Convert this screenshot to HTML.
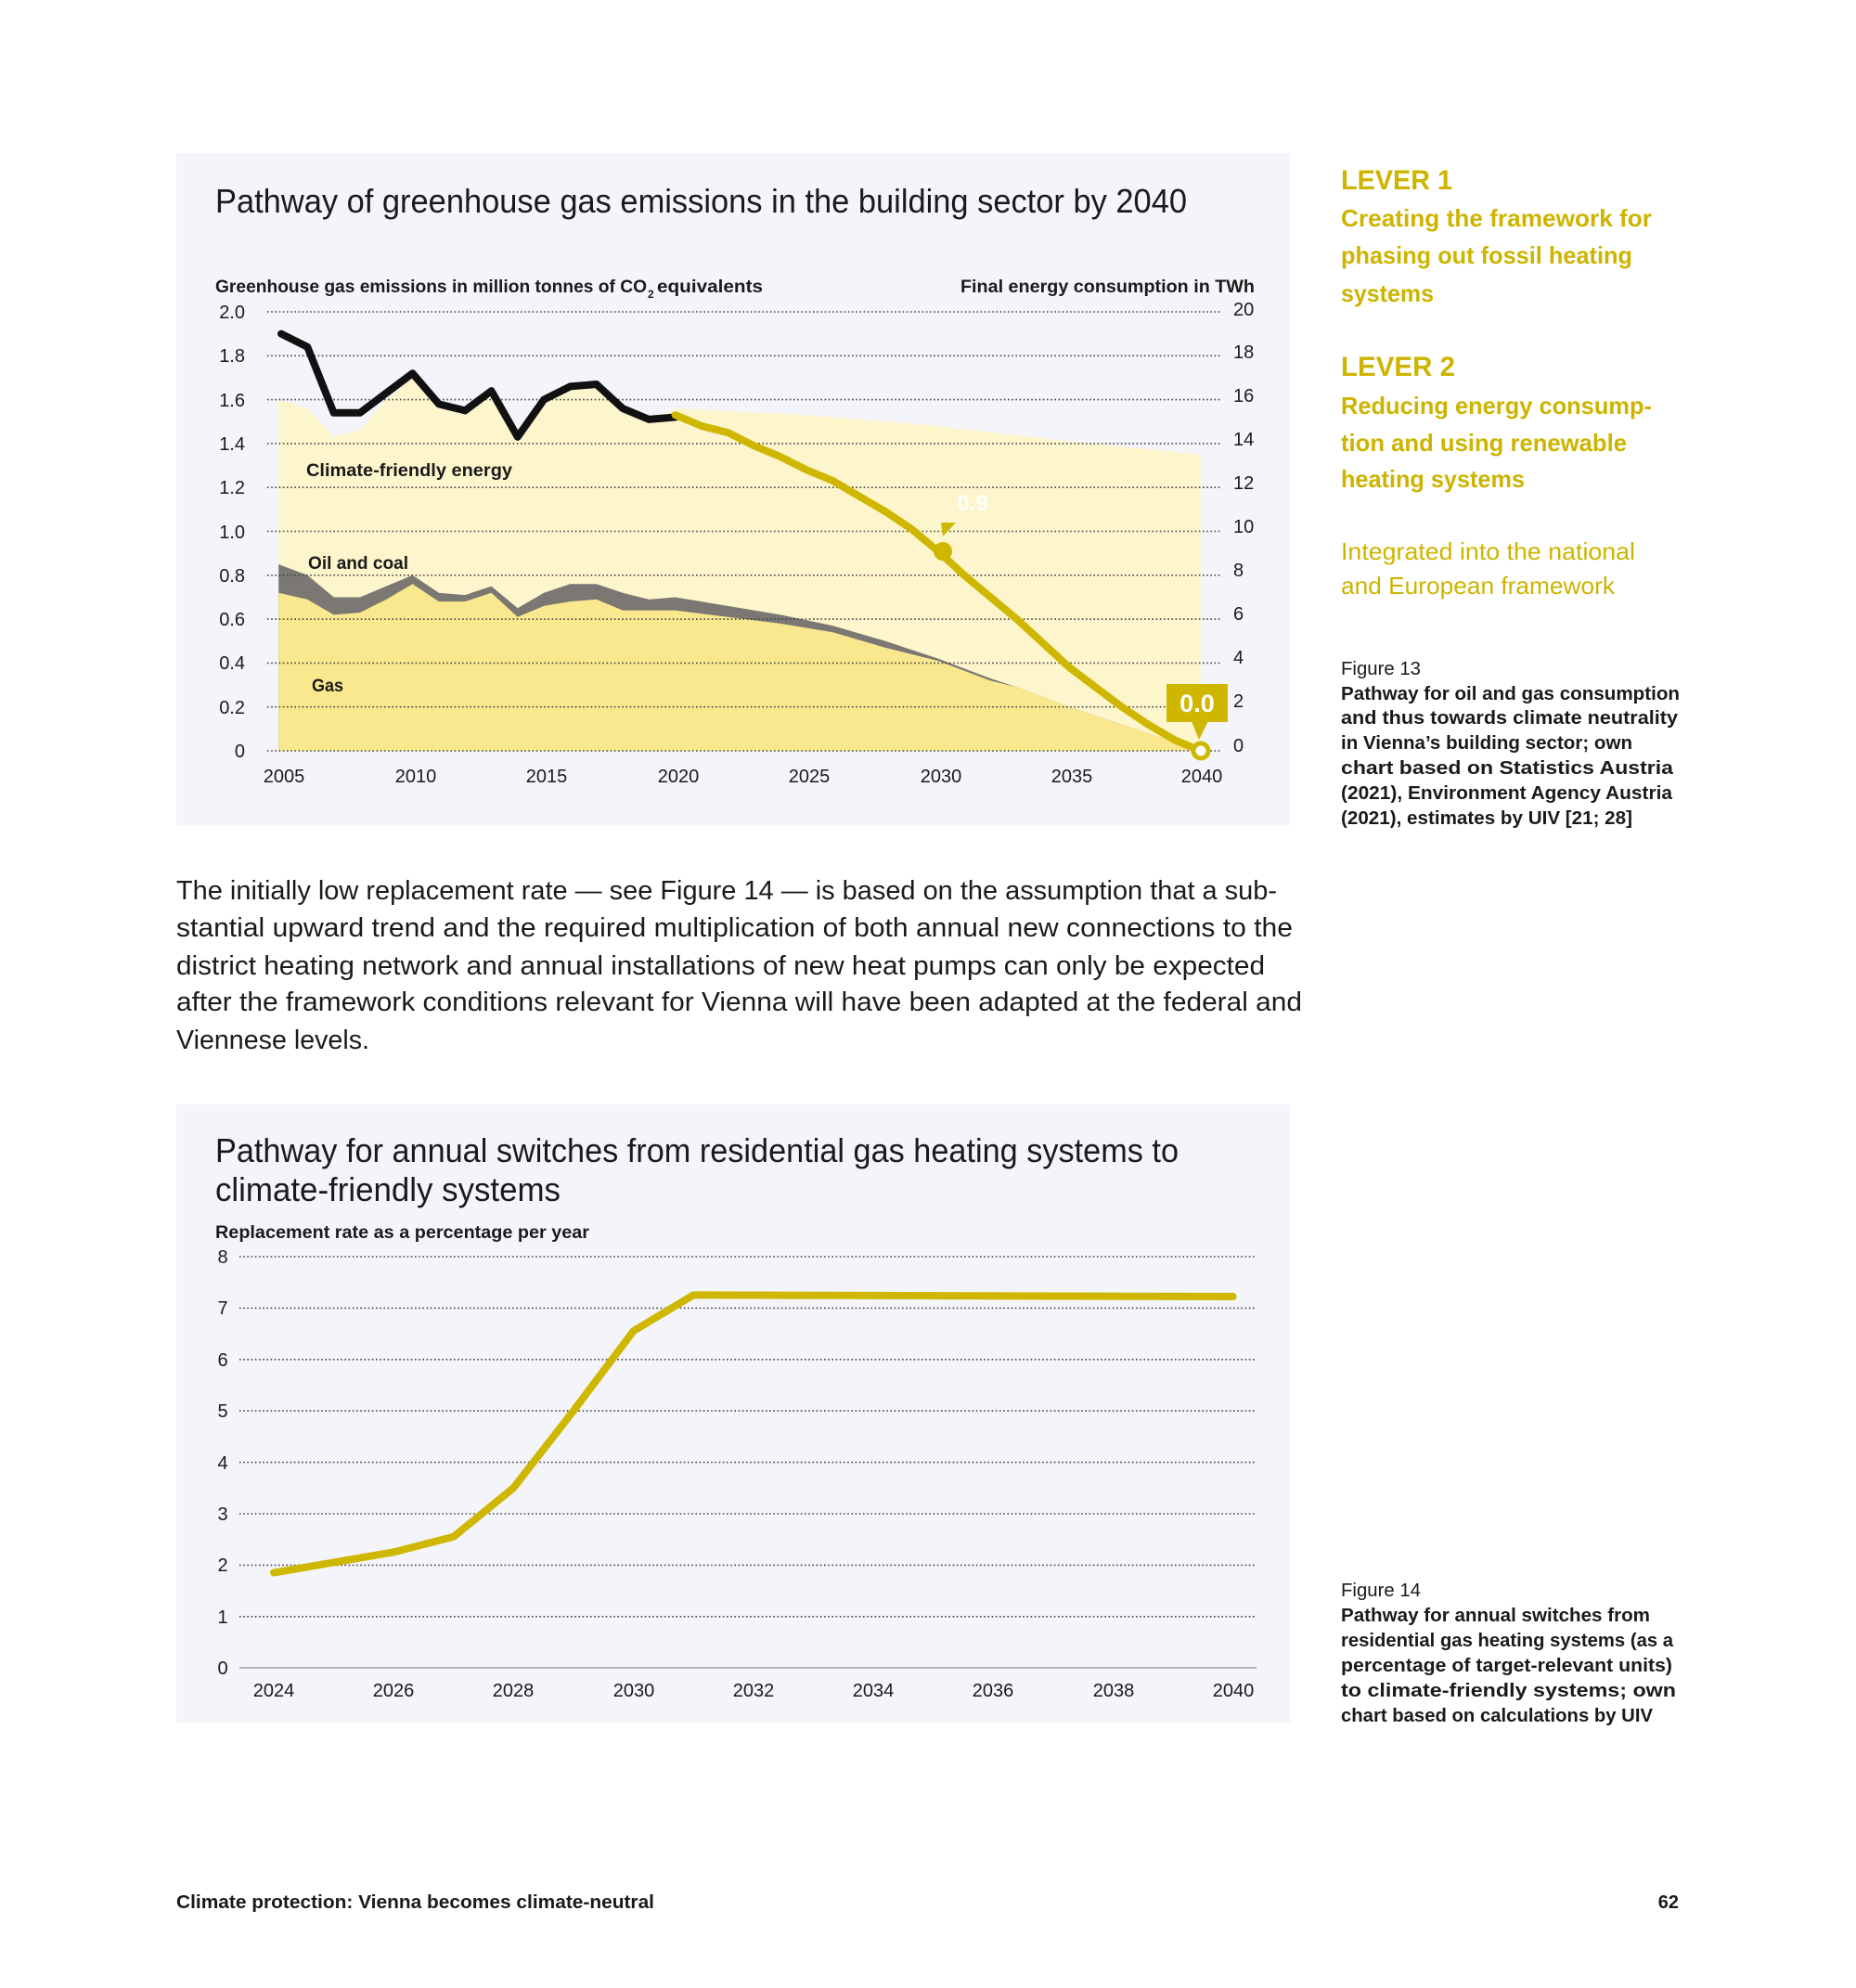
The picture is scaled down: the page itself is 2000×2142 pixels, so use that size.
<!DOCTYPE html>
<html><head><meta charset="utf-8"><style>
html,body{margin:0;padding:0;background:#fff}
svg{display:block}
text{font-family:"Liberation Sans",sans-serif}
</style></head><body>
<svg width="2000" height="2142" viewBox="0 0 2000 2142" xmlns="http://www.w3.org/2000/svg">
<rect width="2000" height="2142" fill="#fff"/>
<!-- Panel 1 -->
<rect x="190" y="165" width="1200" height="724" fill="#f4f5fa"/>
<text x="232" y="229" font-size="36" fill="#1a1a1a" textLength="1047" lengthAdjust="spacingAndGlyphs">Pathway of greenhouse gas emissions in the building sector by 2040</text>
<text x="232" y="315" font-size="19" font-weight="bold" fill="#1a1a1a" textLength="465" lengthAdjust="spacingAndGlyphs">Greenhouse gas emissions in million tonnes of CO</text>
<text x="698" y="321" font-size="12" font-weight="bold" fill="#1a1a1a">2</text>
<text x="708" y="315" font-size="19" font-weight="bold" fill="#1a1a1a" textLength="114" lengthAdjust="spacingAndGlyphs">equivalents</text>
<text x="1035" y="315" font-size="19" font-weight="bold" fill="#1a1a1a" textLength="317" lengthAdjust="spacingAndGlyphs">Final energy consumption in TWh</text>

<!-- areas (data coords) -->
<g transform="translate(303,809) scale(28.31,-236.5)">
<polygon fill="#fdf5cc" points="-0.1,0 -0.1,1.60 1,1.56 2,1.43 3,1.46 4,1.60 5,1.70 6,1.56 7,1.53 8,1.62 9,1.41 10,1.58 11,1.64 12,1.66 13,1.54 14,1.50 15,1.56 20,1.53 25,1.48 30,1.41 35,1.35 35,0"/>
<polygon fill="#7b7772" points="-0.1,0 -0.1,0.85 1,0.80 2,0.70 3,0.70 4,0.75 5,0.80 6,0.72 7,0.71 8,0.75 9,0.65 10,0.72 11,0.76 12,0.76 13,0.72 14,0.69 15,0.70 17,0.66 19,0.62 21,0.57 23,0.50 25,0.42 27,0.33 28,0.29 30,0.20 35,0"/>
<polygon fill="#f9e88e" points="-0.1,0 -0.1,0.72 1,0.69 2,0.62 3,0.63 4,0.69 5,0.76 6,0.68 7,0.68 8,0.72 9,0.61 10,0.66 11,0.68 12,0.69 13,0.64 14,0.64 15,0.64 17,0.61 19,0.58 21,0.54 23,0.47 25,0.41 27,0.32 28,0.29 30,0.20 35,0"/>
</g>
<!-- grid -->
<g stroke="#444" stroke-width="1.6" stroke-dasharray="1.6 2.6">
<line x1="288" y1="336" x2="1317" y2="336"/>
<line x1="288" y1="383.3" x2="1317" y2="383.3"/>
<line x1="288" y1="430.6" x2="1317" y2="430.6"/>
<line x1="288" y1="477.9" x2="1317" y2="477.9"/>
<line x1="288" y1="525.2" x2="1317" y2="525.2"/>
<line x1="288" y1="572.5" x2="1317" y2="572.5"/>
<line x1="288" y1="619.8" x2="1317" y2="619.8"/>
<line x1="288" y1="667.1" x2="1317" y2="667.1"/>
<line x1="288" y1="714.4" x2="1317" y2="714.4"/>
<line x1="288" y1="761.7" x2="1317" y2="761.7"/>
<line x1="288" y1="809" x2="1317" y2="809"/>
</g>
<g font-size="20" fill="#1a1a1a" text-anchor="end">
<text x="264" y="343">2.0</text><text x="264" y="390">1.8</text><text x="264" y="438">1.6</text><text x="264" y="485">1.4</text><text x="264" y="532">1.2</text><text x="264" y="580">1.0</text><text x="264" y="627">0.8</text><text x="264" y="674">0.6</text><text x="264" y="721">0.4</text><text x="264" y="769">0.2</text><text x="264" y="816">0</text>
</g>
<g font-size="20" fill="#1a1a1a">
<text x="1329" y="340">20</text><text x="1329" y="386">18</text><text x="1329" y="433">16</text><text x="1329" y="480">14</text><text x="1329" y="527">12</text><text x="1329" y="574">10</text><text x="1329" y="621">8</text><text x="1329" y="668">6</text><text x="1329" y="715">4</text><text x="1329" y="762">2</text><text x="1329" y="810">0</text>
</g>
<g font-size="20" fill="#1a1a1a" text-anchor="middle">
<text x="306" y="843">2005</text><text x="448" y="843">2010</text><text x="589" y="843">2015</text><text x="731" y="843">2020</text><text x="872" y="843">2025</text><text x="1014" y="843">2030</text><text x="1155" y="843">2035</text><text x="1295" y="843">2040</text>
</g>
<g transform="translate(303,809) scale(28.31,-236.5)" fill="none" stroke-linejoin="round" stroke-linecap="round">
<polyline vector-effect="non-scaling-stroke" stroke="#111" stroke-width="8" points="0,1.90 1,1.84 2,1.54 3,1.54 4,1.63 5,1.72 6,1.58 7,1.55 8,1.64 9,1.43 10,1.60 11,1.66 12,1.67 13,1.56 14,1.51 15,1.52"/>
<polyline vector-effect="non-scaling-stroke" stroke="#cfb700" stroke-width="8" points="15,1.53 16,1.48 17,1.45 18,1.39 19,1.34 20,1.28 21,1.23 22,1.16 23,1.09 24,1.01 25,0.91 26,0.80 27,0.70 28,0.60 29,0.49 30,0.38 31,0.29 32,0.20 33,0.12 34,0.05 35,0"/>
</g>
<g font-size="19" font-weight="bold" fill="#1a1a1a">
<text x="330" y="513" textLength="222" lengthAdjust="spacingAndGlyphs">Climate-friendly energy</text>
<text x="332" y="613" textLength="108" lengthAdjust="spacingAndGlyphs">Oil and coal</text>
<text x="336" y="745" textLength="34" lengthAdjust="spacingAndGlyphs">Gas</text>
</g>
<circle cx="1016" cy="594" r="10" fill="#cfb700"/>
<polygon points="1014,563 1030,563 1016,578" fill="#cfb700"/>
<text x="1048" y="550" font-size="24" font-weight="bold" fill="#fff" text-anchor="middle">0.9</text>
<rect x="1257" y="737" width="66" height="41" fill="#cfb700"/>
<polygon points="1284,777 1302,777 1292,797" fill="#cfb700"/>
<text x="1290" y="767" font-size="27" font-weight="bold" fill="#fff" text-anchor="middle">0.0</text>
<circle cx="1294" cy="809" r="8" fill="#fff" stroke="#cfb700" stroke-width="5"/>

<!-- Paragraph -->
<g font-size="29" fill="#1a1a1a">
<text x="190" y="969" textLength="1186" lengthAdjust="spacingAndGlyphs">The initially low replacement rate — see Figure 14 — is based on the assumption that a sub-</text>
<text x="190" y="1009" textLength="1203" lengthAdjust="spacingAndGlyphs">stantial upward trend and the required multiplication of both annual new connections to the</text>
<text x="190" y="1050" textLength="1173" lengthAdjust="spacingAndGlyphs">district heating network and annual installations of new heat pumps can only be expected</text>
<text x="190" y="1089" textLength="1213" lengthAdjust="spacingAndGlyphs">after the framework conditions relevant for Vienna will have been adapted at the federal and</text>
<text x="190" y="1130" textLength="208" lengthAdjust="spacingAndGlyphs">Viennese levels.</text>
</g>

<!-- Panel 2 -->
<rect x="190" y="1190" width="1200" height="666" fill="#f4f5fa"/>
<text x="232" y="1252" font-size="36" fill="#1a1a1a" textLength="1038" lengthAdjust="spacingAndGlyphs">Pathway for annual switches from residential gas heating systems to</text>
<text x="232" y="1294" font-size="36" fill="#1a1a1a" textLength="372" lengthAdjust="spacingAndGlyphs">climate-friendly systems</text>
<text x="232" y="1334" font-size="19" font-weight="bold" fill="#1a1a1a" textLength="403" lengthAdjust="spacingAndGlyphs">Replacement rate as a percentage per year</text>
<g stroke="#444" stroke-width="1.6" stroke-dasharray="1.6 2.6">
<line x1="258" y1="1354" x2="1354" y2="1354"/>
<line x1="258" y1="1409.4" x2="1354" y2="1409.4"/>
<line x1="258" y1="1464.8" x2="1354" y2="1464.8"/>
<line x1="258" y1="1520.2" x2="1354" y2="1520.2"/>
<line x1="258" y1="1575.6" x2="1354" y2="1575.6"/>
<line x1="258" y1="1631" x2="1354" y2="1631"/>
<line x1="258" y1="1686.4" x2="1354" y2="1686.4"/>
<line x1="258" y1="1741.8" x2="1354" y2="1741.8"/>
</g>
<line x1="258" y1="1797" x2="1354" y2="1797" stroke="#999" stroke-width="1.6"/>
<g font-size="20" fill="#1a1a1a" text-anchor="middle">
<text x="240" y="1361">8</text><text x="240" y="1416">7</text><text x="240" y="1472">6</text><text x="240" y="1527">5</text><text x="240" y="1583">4</text><text x="240" y="1638">3</text><text x="240" y="1693">2</text><text x="240" y="1749">1</text><text x="240" y="1804">0</text>
<text x="295" y="1828">2024</text><text x="424" y="1828">2026</text><text x="553" y="1828">2028</text><text x="683" y="1828">2030</text><text x="812" y="1828">2032</text><text x="941" y="1828">2034</text><text x="1070" y="1828">2036</text><text x="1200" y="1828">2038</text><text x="1329" y="1828">2040</text>
</g>
<g transform="translate(295,1797) scale(64.6,-55.4)" fill="none">
<polyline vector-effect="non-scaling-stroke" stroke="#cfb700" stroke-width="8" stroke-linejoin="round" stroke-linecap="round" points="0,1.85 1,2.05 2,2.25 3,2.55 4,3.5 5,5.0 6,6.55 7,7.25 10,7.24 13,7.23 16,7.22"/>
</g>

<!-- Right column -->
<g fill="#cdb400" font-weight="bold">
<text x="1445" y="204" font-size="30" textLength="120" lengthAdjust="spacingAndGlyphs">LEVER 1</text>
<text x="1445" y="244" font-size="26" textLength="335" lengthAdjust="spacingAndGlyphs">Creating the framework for</text>
<text x="1445" y="284" font-size="26" textLength="314" lengthAdjust="spacingAndGlyphs">phasing out fossil heating</text>
<text x="1445" y="325" font-size="26" textLength="100" lengthAdjust="spacingAndGlyphs">systems</text>
<text x="1445" y="405" font-size="30" textLength="123" lengthAdjust="spacingAndGlyphs">LEVER 2</text>
<text x="1445" y="446" font-size="26" textLength="335" lengthAdjust="spacingAndGlyphs">Reducing energy consump-</text>
<text x="1445" y="486" font-size="26" textLength="308" lengthAdjust="spacingAndGlyphs">tion and using renewable</text>
<text x="1445" y="525" font-size="26" textLength="198" lengthAdjust="spacingAndGlyphs">heating systems</text>
</g>
<g fill="#cdb400" font-size="26">
<text x="1445" y="603" textLength="317" lengthAdjust="spacingAndGlyphs">Integrated into the national</text>
<text x="1445" y="640" textLength="295" lengthAdjust="spacingAndGlyphs">and European framework</text>
</g>
<g fill="#1a1a1a" font-size="20">
<text x="1445" y="727" textLength="86" lengthAdjust="spacingAndGlyphs">Figure 13</text>
<text x="1445" y="1720" textLength="86" lengthAdjust="spacingAndGlyphs">Figure 14</text>
</g>
<g fill="#1a1a1a" font-size="20" font-weight="bold">
<text x="1445" y="754" textLength="365" lengthAdjust="spacingAndGlyphs">Pathway for oil and gas consumption</text>
<text x="1445" y="780" textLength="363" lengthAdjust="spacingAndGlyphs">and thus towards climate neutrality</text>
<text x="1445" y="807" textLength="314" lengthAdjust="spacingAndGlyphs">in Vienna’s building sector; own</text>
<text x="1445" y="834" textLength="358" lengthAdjust="spacingAndGlyphs">chart based on Statistics Austria</text>
<text x="1445" y="861" textLength="357" lengthAdjust="spacingAndGlyphs">(2021), Environment Agency Austria</text>
<text x="1445" y="888" textLength="314" lengthAdjust="spacingAndGlyphs">(2021), estimates by UIV [21; 28]</text>
<text x="1445" y="1747" textLength="333" lengthAdjust="spacingAndGlyphs">Pathway for annual switches from</text>
<text x="1445" y="1774" textLength="358" lengthAdjust="spacingAndGlyphs">residential gas heating systems (as a</text>
<text x="1445" y="1801" textLength="357" lengthAdjust="spacingAndGlyphs">percentage of target-relevant units)</text>
<text x="1445" y="1828" textLength="361" lengthAdjust="spacingAndGlyphs">to climate-friendly systems; own</text>
<text x="1445" y="1855" textLength="336" lengthAdjust="spacingAndGlyphs">chart based on calculations by UIV</text>
</g>
<!-- Footer -->
<text x="190" y="2056" font-size="20" font-weight="bold" fill="#1a1a1a" textLength="515" lengthAdjust="spacingAndGlyphs">Climate protection: Vienna becomes climate-neutral</text>
<text x="1809" y="2056" font-size="20" font-weight="bold" fill="#1a1a1a" text-anchor="end">62</text>
</svg>
</body></html>
